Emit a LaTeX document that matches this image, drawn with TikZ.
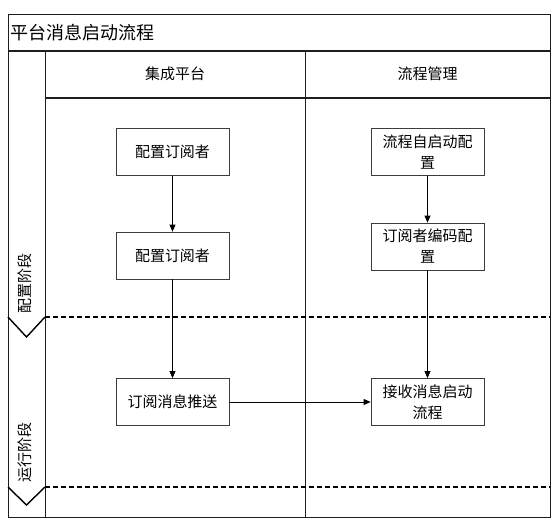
\documentclass[tikz,border=0pt]{standalone}
\usepackage{fontspec}
\usepackage{tikz}
\usetikzlibrary{arrows.meta, positioning}
\newfontfamily\cjk{Noto Sans CJK SC}
\definecolor{framegray}{RGB}{30, 30, 30}
\definecolor{boxgray}{RGB}{60, 60, 60}

\begin{document}
\begin{tikzpicture}[
        x=1pt, y=-1pt,
        stepbox/.style={rectangle, draw=boxgray, fill=white, line width=0.8pt, minimum width=113pt, minimum height=47pt, text width=104pt, align=center, inner sep=2pt, font=\cjk\fontsize{15}{21}\selectfont},
        lanehead/.style={font=\cjk\fontsize{15}{18}\selectfont},
        phase/.style={rotate=90, font=\cjk\fontsize{15}{18}\selectfont},
        frame/.style={draw=framegray, line width=0.9pt},
        bar/.style={draw=framegray, line width=1.8pt},
        divider/.style={draw=black, line width=1.8pt, dash pattern=on 5pt off 3pt},
        chevron/.style={draw=black, line width=1.4pt},
        flow/.style={-{Triangle[length=7pt,width=6pt]}, line width=0.8pt, draw=black}
    ]
        \useasboundingbox (0,0) rectangle (558,523);

        % Frame
        \draw[frame] (8,14) rectangle (550,517);
        \draw[frame] (45,51) -- (45,517);
        \draw[frame] (305,51) -- (305,517);
        \draw[bar] (8,51) -- (550,51);
        \draw[bar] (45,98) -- (550,98);
        \draw[divider] (45,317) -- (550,317);
        \draw[divider] (45,487) -- (550,487);
        \draw[chevron] (8,317) -- (26.5,337) -- (45,317);
        \draw[chevron] (8,487) -- (26.5,505) -- (45,487);

        % Titles
        \node[anchor=west, font=\cjk\fontsize{18}{20}\selectfont, inner sep=0pt] (title) at (10,33) {平台消息启动流程};
        \node[lanehead] (platform) at (175,74) {集成平台};
        \node[lanehead] (process) at (427.5,74) {流程管理};
        \node[phase] (configphase) at (25,283) {配置阶段};
        \node[phase] (runphase) at (25,452) {运行阶段};

        % Nodes
        \node[stepbox] (sub_a) at (172.5,152) {配置订阅者};
        \node[stepbox] (sub_b) at (172.5,255.5) {配置订阅者};
        \node[stepbox] (push) at (172.5,402) {订阅消息推送};
        \node[stepbox] (autostart) at (427.5,152) {流程自启动配\\置};
        \node[stepbox] (subcode) at (427.5,246.5) {订阅者编码配\\置};
        \node[stepbox] (receive) at (427.5,402) {接收消息启动\\流程};

        % Edges
        \draw[flow] (sub_a) -- (sub_b);
        \draw[flow] (sub_b) -- (push);
        \draw[flow] (autostart) -- (subcode);
        \draw[flow] (subcode) -- (receive);
        \draw[flow] (push) -- (receive);

    \end{tikzpicture}
\end{document}
